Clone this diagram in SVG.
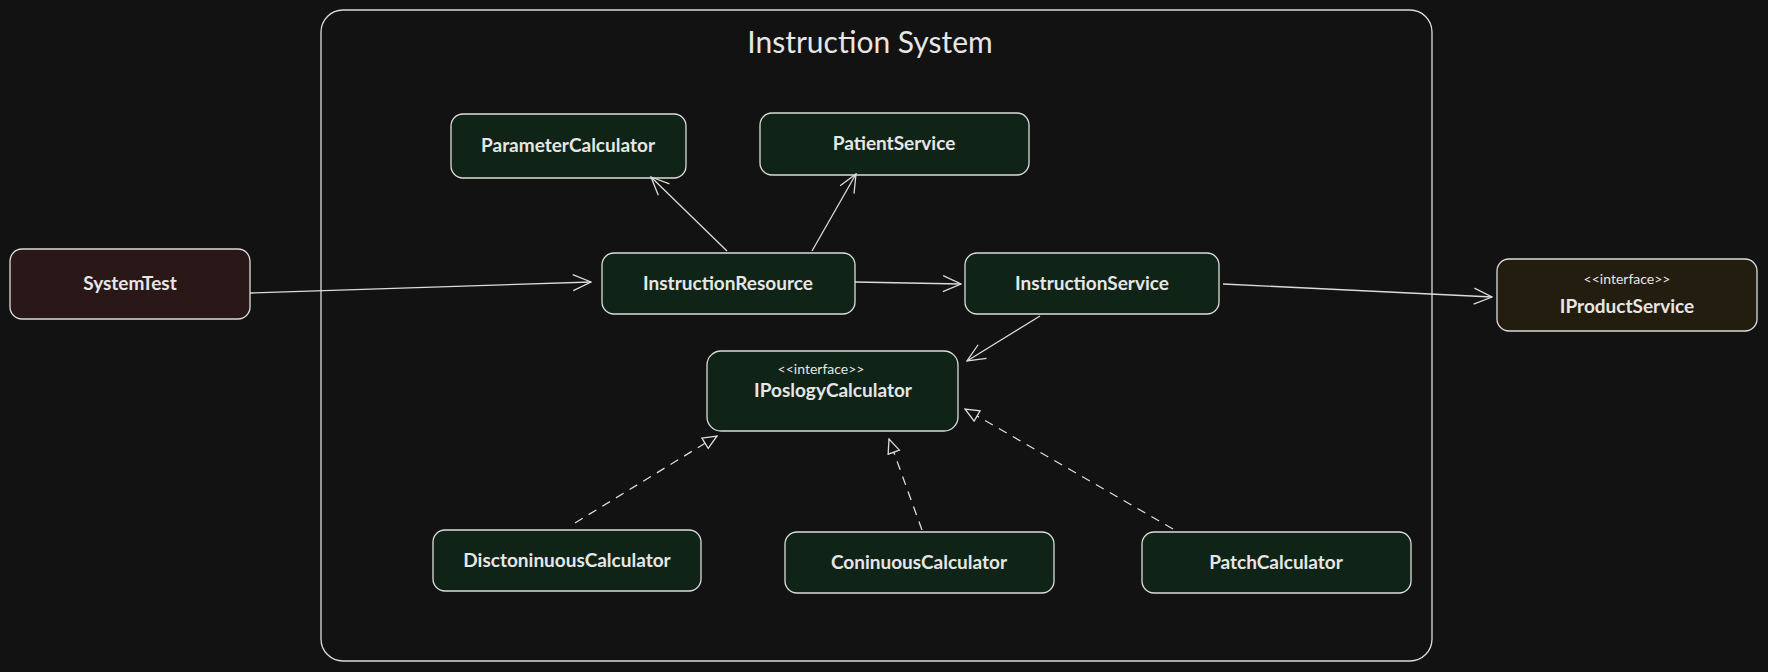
<svg xmlns="http://www.w3.org/2000/svg" width="1768" height="672" viewBox="0 0 1768 672">
<style>
.n{stroke:#dcdcdc;stroke-width:1.3}
.g{fill:#0f2417}.r{fill:#2a1819}.y{fill:#231d10}
text{font-family:"Lato","Liberation Sans",sans-serif;fill:#e6e6e6;text-anchor:middle}
.t{font-size:19px;font-weight:bold}
.s{font-size:14px}
.e{stroke:#dcdcdc;stroke-width:1.3;fill:none}
.d{stroke-dasharray:9 7}
</style>
<defs>
<marker id="a" viewBox="0 0 20 20" refX="19" refY="10" markerWidth="20" markerHeight="20" markerUnits="userSpaceOnUse" orient="auto"><path d="M1,2 L19,10 L1,18" fill="none" stroke="#dcdcdc" stroke-width="1.3"/></marker>
<marker id="t" viewBox="0 0 16 16" refX="15" refY="8" markerWidth="16" markerHeight="16" markerUnits="userSpaceOnUse" orient="auto"><path d="M1,2 L15,8 L1,14 Z" fill="#121212" stroke="#dcdcdc" stroke-width="1.3"/></marker>
</defs>
<rect width="1768" height="672" fill="#121212"/>
<g id="system"><rect x="321" y="10" width="1111" height="651" rx="22" fill="none" class="n"/>
<text x="870" y="53" style="font-size:30px">Instruction System</text></g>
<g id="SystemTest"><rect x="10" y="249" width="240" height="70" rx="12" class="n r"/><text class="t" x="130" y="290">SystemTest</text></g>
<g id="ParameterCalculator"><rect x="451" y="114" width="235" height="64" rx="12" class="n g"/><text class="t" x="568" y="152">ParameterCalculator</text></g>
<g id="PatientService"><rect x="760" y="113" width="269" height="62" rx="12" class="n g"/><text class="t" x="894" y="150">PatientService</text></g>
<g id="InstructionResource"><rect x="602" y="253" width="253" height="61" rx="12" class="n g"/><text class="t" x="728" y="290">InstructionResource</text></g>
<g id="InstructionService"><rect x="965" y="253" width="254" height="61" rx="12" class="n g"/><text class="t" x="1092" y="290">InstructionService</text></g>
<g id="IProductService"><rect x="1497" y="259" width="260" height="72" rx="12" class="n y"/><text class="s" x="1627" y="284">&lt;&lt;interface&gt;&gt;</text><text class="t" x="1627" y="313">IProductService</text></g>
<g id="IPoslogyCalculator"><rect x="707" y="351" width="251" height="80" rx="14" class="n g"/><text class="s" x="821" y="374">&lt;&lt;interface&gt;&gt;</text><text class="t" x="833" y="397">IPoslogyCalculator</text></g>
<g id="DisctoninuousCalculator"><rect x="433" y="530" width="268" height="61" rx="12" class="n g"/><text class="t" x="567" y="567">DisctoninuousCalculator</text></g>
<g id="ConinuousCalculator"><rect x="785" y="532" width="269" height="61" rx="12" class="n g"/><text class="t" x="919" y="569">ConinuousCalculator</text></g>
<g id="PatchCalculator"><rect x="1142" y="532" width="269" height="61" rx="12" class="n g"/><text class="t" x="1276" y="569">PatchCalculator</text></g>
<g id="connectors">
<path class="e" d="M250,293 L591,282" marker-end="url(#a)"/>
<path class="e" d="M727,251 L651,177" marker-end="url(#a)"/>
<path class="e" d="M812,251 L856,174" marker-end="url(#a)"/>
<path class="e" d="M855,282 L961,284" marker-end="url(#a)"/>
<path class="e" d="M1223,284 L1492,297" marker-end="url(#a)"/>
<path class="e" d="M1040,316 L967,361" marker-end="url(#a)"/>
<path class="e d" d="M575,523 L717,436" marker-end="url(#t)"/>
<path class="e d" d="M922,530 L889,439" marker-end="url(#t)"/>
<path class="e d" d="M1173,529 L965,409" marker-end="url(#t)"/>
</g>
</svg>
